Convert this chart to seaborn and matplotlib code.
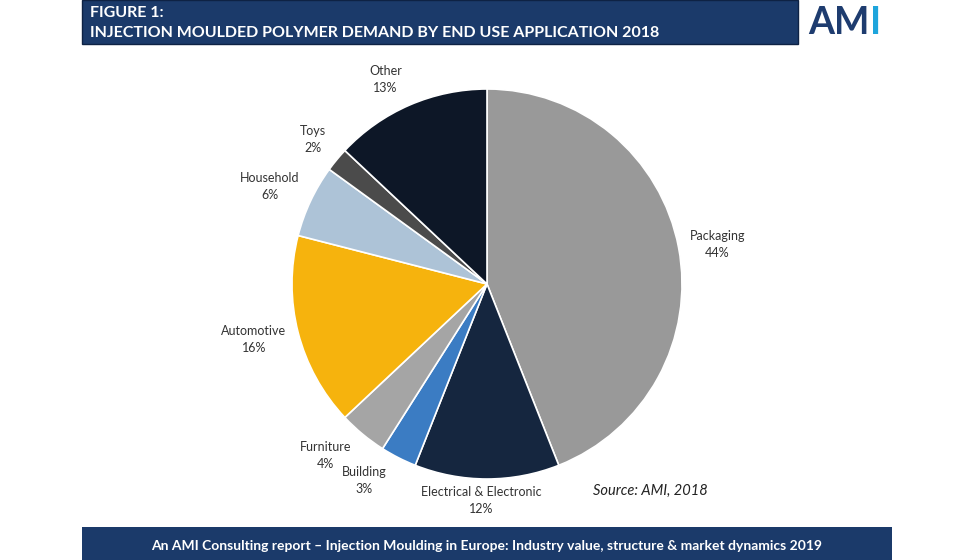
"""
Injection moulded polymer demand by end use application, 2018 (AMI figure 1).
"""

import numpy as np
import matplotlib
matplotlib.use("Agg")
import matplotlib.pyplot as plt
from matplotlib.patches import Rectangle
import seaborn as sns

# data, clockwise from 12 o'clock
categories = ["Packaging", "Electrical & Electronic", "Building", "Furniture",
              "Automotive", "Household", "Toys", "Other"]
shares = [44, 12, 3, 4, 16, 6, 2, 13]
colors = ["#999999", "#15263f", "#3b7cc3", "#a5a5a5",
          "#f6b30d", "#adc3d7", "#4b4b4b", "#0d1727"]

title_line1 = "FIGURE 1:"
title_line2 = "INJECTION MOULDED POLYMER DEMAND BY END USE APPLICATION 2018"
footer = ("An AMI Consulting report \u2013 Injection Moulding in Europe: "
          "Industry value, structure & market dynamics 2019")
source = "Source: AMI, 2018"

# label radius (in pie radii) and angle nudge (deg) per wedge
label_dist = [1.20, 1.11, 1.19, 1.21, 1.23, 1.22, 1.16, 1.17]
label_nudge = [-1, -1.6, -5, -3.7, -1, 1, 0, 3]

sns.set_theme(style="white")
plt.rcParams["font.family"] = ["Lato", "DejaVu Sans"]

W, H = 980, 560
fig = plt.figure(figsize=(W / 100, H / 100), dpi=100)
fig.patch.set_facecolor("white")

# pie axes: centre (487, 284) px, radius 195 px
R = 195.0
cx, cy = 487, 284
left, right, top, bottom = 150, 824, 60, 508
ax = fig.add_axes([left / W, (H - bottom) / H, (right - left) / W, (bottom - top) / H])
wedges, _ = ax.pie(shares, colors=colors, startangle=90, counterclock=False,
                   wedgeprops=dict(edgecolor="white", linewidth=1.2))
ax.set_xlim((left - cx) / R, (right - cx) / R)
ax.set_ylim((cy - bottom) / R, (cy - top) / R)
ax.set_axis_off()

for w, name, pct, d, nudge in zip(wedges, categories, shares, label_dist, label_nudge):
    ang = np.deg2rad((w.theta1 + w.theta2) / 2 + nudge)
    ax.text(d * np.cos(ang), d * np.sin(ang), f"{name}\n{pct}%",
            ha="center", va="center", fontsize=9.0, color="#333333",
            linespacing=1.5)

fig.text(650 / W, 1 - 491 / H, source, ha="center", va="center",
         fontsize=10.5, style="italic", color="#222222")

# header bar
navy = "#1b3a6a"
fig.patches.append(Rectangle((82 / W, 1 - 44 / H), (798 - 82) / W, 44 / H,
                             transform=fig.transFigure, facecolor=navy,
                             edgecolor="#0e2244", linewidth=1, zorder=0))
fig.text(90 / W, 1 - 13 / H, title_line1, ha="left", va="center",
         fontsize=11.5, fontweight="bold", color="white")
fig.text(90 / W, 1 - 33 / H, title_line2, ha="left", va="center",
         fontsize=11.5, fontweight="bold", color="white")

# footer bar
fig.patches.append(Rectangle((82 / W, 0), (892 - 82) / W, 33 / H,
                             transform=fig.transFigure, facecolor=navy,
                             edgecolor="none", zorder=0))
fig.text(487 / W, 14 / H, footer, ha="center", va="center",
         fontsize=10, fontweight="bold", color="white")

# AMI logo
t_am = fig.text(808 / W, 1 - 23 / H, "AM", ha="left", va="center",
                fontsize=27, fontweight="bold", color="#1e3c6f")
renderer = fig.canvas.get_renderer()
bb = t_am.get_window_extent(renderer)
fig.text((bb.x1 + 1) / W, 1 - 23 / H, "I", ha="left", va="center",
         fontsize=27, fontweight="bold", color="#1ea5dc")

fig.savefig("out.png", dpi=100)
